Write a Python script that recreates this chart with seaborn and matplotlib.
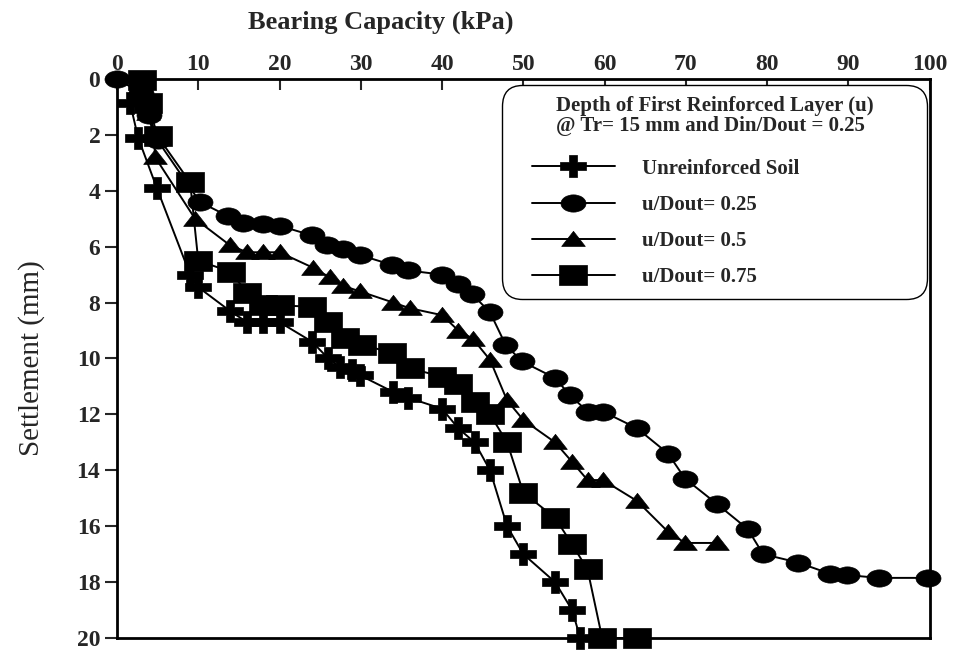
import numpy as np
import pandas as pd
import matplotlib
matplotlib.use("Agg")
import matplotlib.pyplot as plt
from matplotlib.path import Path
from matplotlib.transforms import Affine2D
from matplotlib.lines import Line2D
from matplotlib.legend_handler import HandlerLine2D
import seaborn as sns

# ---- data ----
cap_unreinf = [1.6, 2.6, 4.9, 9.0, 10.0, 13.9, 16.0, 18.0, 20.0, 24.0, 26.0, 27.4, 28.9, 29.9,
               34.0, 35.8, 40.0, 42.0, 44.0, 45.9, 48.0, 50.0, 53.9, 56.0, 57.0]
set_unreinf = [0.85, 2.1, 3.9, 7.0, 7.45, 8.3, 8.7, 8.7, 8.7, 9.4, 10.0, 10.3, 10.4, 10.6,
               11.2, 11.4, 11.8, 12.5, 13.0, 14.0, 16.0, 17.0, 18.0, 19.0, 20.0]

cap_025 = [0.0, 3.0, 4.0, 5.0, 10.2, 13.6, 15.5, 18.0, 20.0, 24.0, 25.8, 27.8, 29.9, 33.8,
           35.8, 40.0, 42.0, 43.7, 45.9, 47.8, 49.8, 53.9, 55.7, 57.9, 59.8, 64.0, 67.8,
           69.9, 73.8, 77.6, 79.5, 83.8, 87.7, 89.8, 93.8, 99.8]
set_025 = [0.0, 0.5, 1.3, 2.2, 4.4, 4.9, 5.15, 5.2, 5.25, 5.6, 5.95, 6.1, 6.3, 6.65,
           6.85, 7.0, 7.35, 7.7, 8.35, 9.5, 10.1, 10.7, 11.3, 11.9, 11.9, 12.5, 13.4,
           14.3, 15.2, 16.1, 17.0, 17.3, 17.7, 17.75, 17.85, 17.85]

cap_05 = [3.0, 3.8, 4.5, 4.7, 9.6, 13.9, 16.0, 18.0, 20.0, 24.1, 26.2, 27.8, 29.9, 34.0,
          36.0, 40.0, 42.0, 43.8, 45.9, 48.0, 50.0, 53.9, 56.0, 57.9, 59.8, 64.0, 67.8,
          69.9, 73.8]
set_05 = [0.3, 1.2, 2.0, 2.8, 5.0, 5.95, 6.2, 6.2, 6.2, 6.75, 7.1, 7.4, 7.6, 8.0,
          8.2, 8.45, 9.0, 9.3, 10.05, 11.5, 12.2, 13.0, 13.7, 14.35, 14.35, 15.1, 16.2,
          16.6, 16.6]

cap_075 = [3.1, 3.8, 5.0, 9.0, 10.0, 14.0, 16.0, 18.0, 20.0, 24.0, 26.0, 28.0, 30.1, 33.8,
           36.0, 40.0, 42.0, 44.0, 45.9, 48.0, 50.0, 53.9, 56.0, 57.9, 59.7, 64.0]
set_075 = [0.05, 0.85, 2.05, 3.7, 6.5, 6.9, 7.65, 8.1, 8.1, 8.15, 8.7, 9.25, 9.5, 9.8,
           10.35, 10.65, 10.9, 11.55, 12.0, 13.0, 14.8, 15.7, 16.65, 17.55, 20.0, 20.0]

series_labels = ["Unreinforced Soil", "u/Dout= 0.25", "u/Dout= 0.5", "u/Dout= 0.75"]
x_ticks = [0, 10, 20, 30, 40, 50, 60, 70, 80, 90, 100]
y_ticks = [0, 2, 4, 6, 8, 10, 12, 14, 16, 18, 20]

# ---- markers (stretched horizontally like the reference) ----
sx = 1.45
circle_m = Path.unit_circle().transformed(Affine2D().scale(sx, 1.0))
square_m = Path([(-sx, -1), (sx, -1), (sx, 1), (-sx, 1), (-sx, -1)],
                [Path.MOVETO, Path.LINETO, Path.LINETO, Path.LINETO, Path.CLOSEPOLY])
tri_m = Path([(-sx, -0.85), (sx, -0.85), (0, 1.0), (-sx, -0.85)],
             [Path.MOVETO, Path.LINETO, Path.LINETO, Path.CLOSEPOLY])
a, b, t = 1.25, 1.0, 0.36
plus_m = Path([(-a, -t), (-t, -t), (-t, -b), (t, -b), (t, -t), (a, -t), (a, t), (t, t),
               (t, b), (-t, b), (-t, t), (-a, t), (-a, -t)],
              [Path.MOVETO] + [Path.LINETO] * 11 + [Path.CLOSEPOLY])

sns.set_style("ticks")
plt.rcParams["font.family"] = ["Liberation Serif", "DejaVu Serif"]
plt.rcParams["mathtext.default"] = "regular"

fig = plt.figure(figsize=(9.55, 6.5), dpi=100)
ax = fig.add_axes([0.1225, 0.0185, 0.851, 0.86])

specs = [
    (cap_unreinf, set_unreinf, plus_m, 19),
    (cap_025, set_025, circle_m, 18),
    (cap_05, set_05, tri_m, 17),
    (cap_075, set_075, square_m, 20),
]
for (xs, ys, mk, ms), lab in zip(specs, series_labels):
    df = pd.DataFrame({"cap": xs, "settle": ys})
    sns.lineplot(data=df, x="cap", y="settle", sort=False, estimator=None, ax=ax,
                 color="black", lw=1.4, marker=mk, markersize=ms,
                 markerfacecolor="black", markeredgecolor="black",
                 markeredgewidth=0.5, clip_on=False, label=lab, zorder=3)

ax.set_xlim(0, 100)
ax.set_ylim(20, 0)
ax.set_xticks(x_ticks)
ax.set_yticks(y_ticks)
ax.set_xticklabels([str(v) for v in x_ticks])
ax.set_yticklabels([str(v) for v in y_ticks])

ax.xaxis.set_label_position("top")
ax.xaxis.tick_top()
ax.tick_params(axis="x", which="both", top=True, bottom=False, direction="in",
               length=8, width=1.5, labelsize=17, pad=3)
ax.tick_params(axis="y", which="both", left=True, right=False, direction="out",
               length=9, width=1.5, labelsize=17, pad=3)
for lbl in ax.get_xticklabels() + ax.get_yticklabels():
    lbl.set_fontweight("bold")

for sp in ax.spines.values():
    sp.set_visible(True)
    sp.set_linewidth(2)
    sp.set_color("black")

ax.set_xlabel("Bearing Capacity (kPa)", fontsize=19, fontweight="bold")
ax.xaxis.set_label_coords(0.325, 1.09)
ax.set_ylabel("Settlement (mm)", fontsize=21)
ax.yaxis.set_label_coords(-0.088, 0.5)

handles, labels = ax.get_legend_handles_labels()
leg = ax.legend(handles, labels,
                title="Depth of First Reinforced Layer (u)\n@ Tr= 15 mm and Din/Dout = 0.25",
                loc="upper left", bbox_to_anchor=(0.477, 0.984, 0.516, 0.0),
                mode="expand", frameon=True,
                fancybox=True, edgecolor="black", facecolor="white", framealpha=1,
                prop={"weight": "bold", "size": 15},
                title_fontproperties={"weight": "bold", "size": 15},
                handlelength=4.9, handletextpad=1.3, labelspacing=0.78,
                borderpad=0.4, borderaxespad=0.0, markerscale=1.0,
                handler_map={Line2D: HandlerLine2D(xpad=0.9)})
leg.get_title().set_linespacing(0.95)
leg._legend_box.sep = leg._legend_box.sep + 5
leg.get_frame().set_linewidth(1.0)
leg.get_frame().set_boxstyle("round", pad=0.15, rounding_size=1.0)
leg._legend_box.align = "center"

fig.savefig("out.png", dpi=100)
